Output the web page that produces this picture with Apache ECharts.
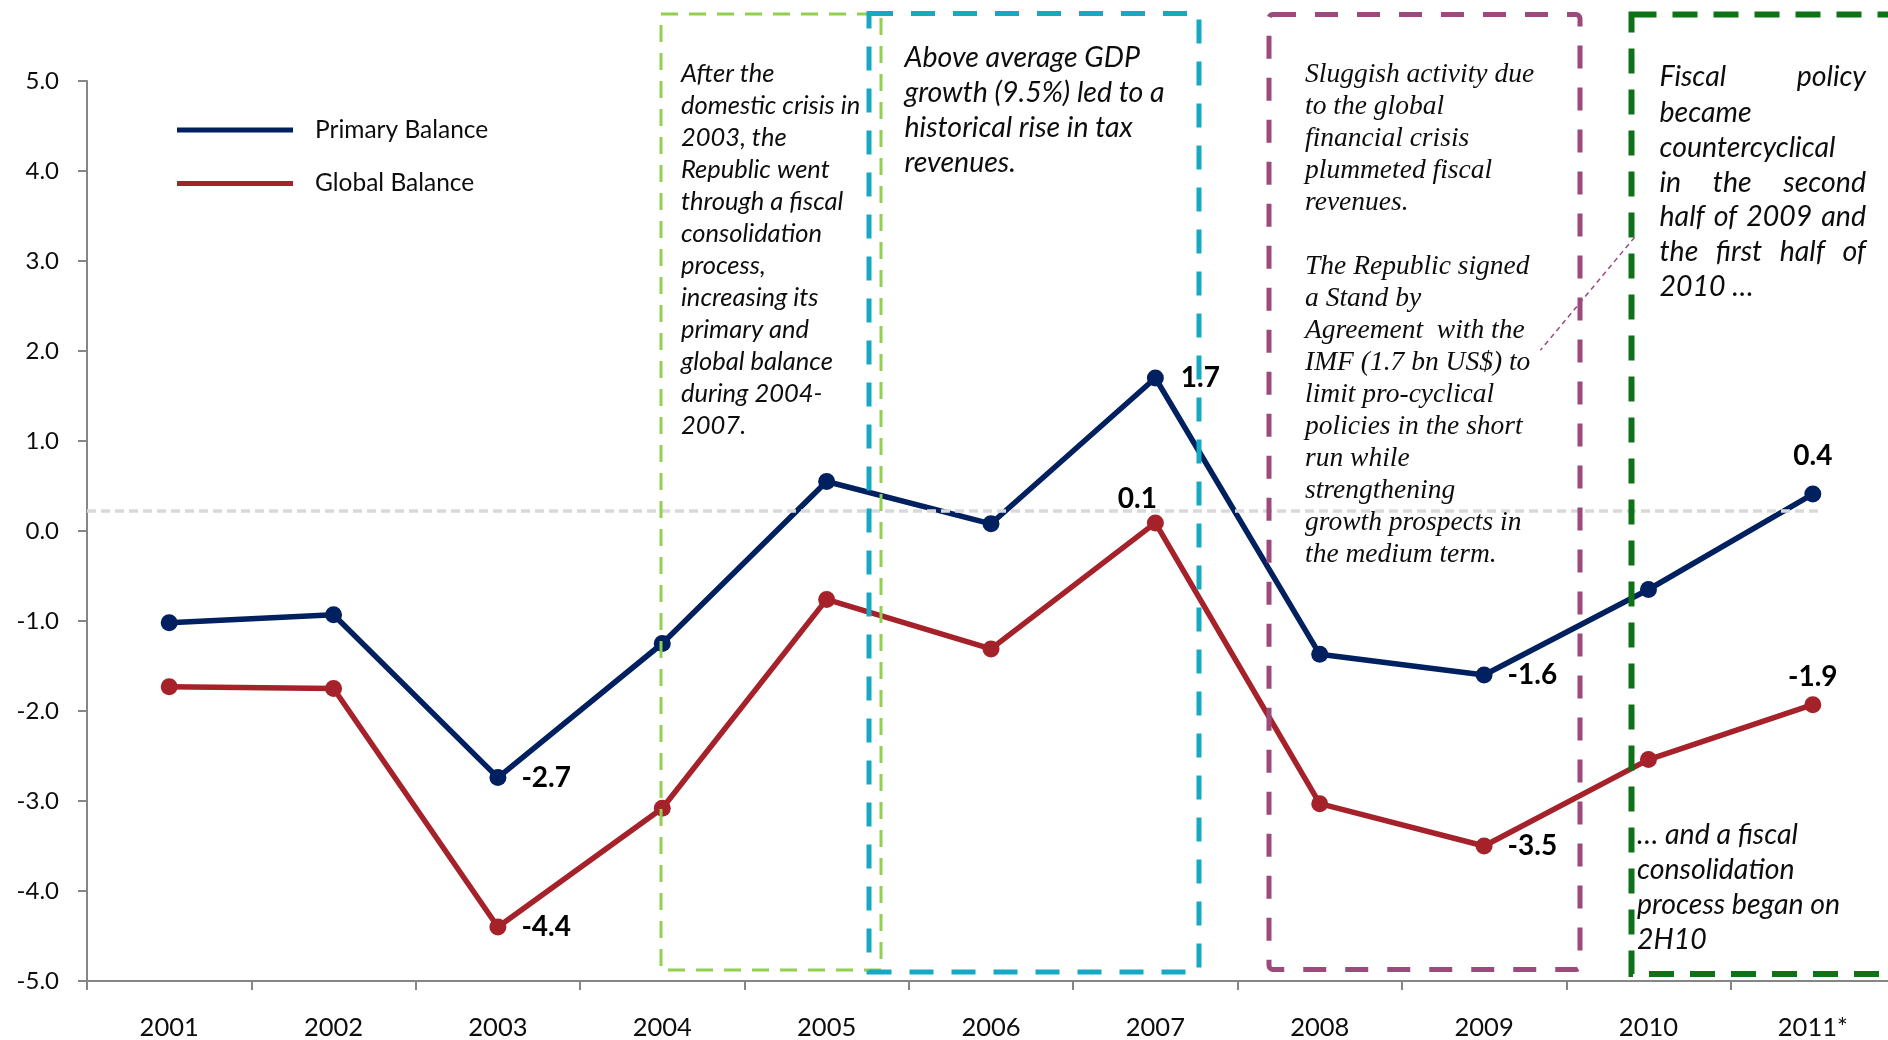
<!DOCTYPE html>
<html>
<head>
<meta charset="utf-8">
<title>Primary and Global Balance</title>
<script src="https://cdn.jsdelivr.net/npm/echarts@6/dist/echarts.min.js"></script>
<style>
  html, body { margin: 0; padding: 0; background: #fff; }
  #chart { width: 1888px; height: 1040px; }
</style>
</head>
<body>
<div id="chart"></div>
<script>
// data (% of GDP)
const years = ['2001', '2002', '2003', '2004', '2005', '2006', '2007', '2008', '2009', '2010', '2011*'];
const primaryBalance = [-1.02, -0.93, -2.74, -1.25, 0.55, 0.08, 1.70, -1.37, -1.60, -0.65, 0.41];
const globalBalance = [-1.73, -1.75, -4.40, -3.08, -0.76, -1.31, 0.09, -3.03, -3.50, -2.54, -1.93];
const refLineValue = 0.23;

// which points carry a value label, and where
const primaryLabels = {
  2: { position: 'right', distance: 15 },
  6: { position: 'right', distance: 17 },
  8: { position: 'right', distance: 15 },
  10: { position: 'top', distance: 16 }
};
const globalLabels = {
  2: { position: 'right', distance: 15 },
  6: { position: 'top', distance: 1, offset: [-18, 0] },
  8: { position: 'right', distance: 15 },
  10: { position: 'top', distance: 5 }
};

const NAVY = '#002060';
const RED = '#A6222A';
const AXIS = '#868686';
const TEXT = '#0d0d0d';

function withLabels(values, cfg) {
  return values.map(function (v, i) {
    if (!cfg[i]) return v;
    return { value: v, label: Object.assign({ show: true }, cfg[i]) };
  });
}

const measureCtx = document.createElement('canvas').getContext('2d');
// spread words across a line like justified text in the original
function justifiedLine(words, left, right, cy, font) {
  measureCtx.font = font;
  const widths = words.map(function (w) { return measureCtx.measureText(w).width; });
  const total = widths.reduce(function (a, b) { return a + b; }, 0);
  const gap = (right - left - total) / (words.length - 1);
  let x = left;
  return words.map(function (w, i) {
    const el = {
      type: 'text', z: 100, silent: true,
      style: { text: w, x: x, y: cy, font: font, fill: TEXT, verticalAlign: 'middle' }
    };
    x += widths[i] + gap;
    return el;
  });
}

function box(x, y, w, h, color, width, dash, r) {
  return {
    type: 'rect', z: 100, silent: true,
    shape: { x: x, y: y, width: w, height: h, r: r || 0 },
    style: { fill: 'none', stroke: color, lineWidth: width, lineDash: dash }
  };
}

function note(lines, x, y, font, lineHeight) {
  return {
    type: 'text', z: 100, silent: true,
    style: {
      text: lines.join('\n'), x: x, y: y, font: font, fill: TEXT,
      lineHeight: lineHeight, verticalAlign: 'top'
    }
  };
}

const sansNote = 'italic 25.5px Lato';
const sansBig = 'italic 28.5px Lato';
const serifNote = 'italic 27.5px "Liberation Serif"';

const graphics = [
  box(661, 14, 220, 956, '#92D050', 3, [17, 11]),
  box(869, 13.5, 330, 958.5, '#17A8C4', 5, [24, 18]),
  box(1269, 14.5, 311, 955, '#9C4A7C', 5, [23, 19], 4),
  box(1631.5, 14.5, 300, 959.5, '#0E7216', 6, [25, 16]),
  {
    type: 'line', z: 100, silent: true,
    shape: { x1: 1634.6, y1: 237.3, x2: 1540.4, y2: 350.2 },
    style: { stroke: '#9C4A7C', lineWidth: 1.5, lineDash: [5, 4] }
  },
  note(['After the', 'domestic crisis in', '2003, the', 'Republic went', 'through a fiscal',
    'consolidation', 'process,', 'increasing its', 'primary and', 'global balance',
    'during 2004-', '2007.'], 681, 58, sansNote, 32),
  note(['Above average GDP', 'growth (9.5%) led to a', 'historical rise in tax', 'revenues.'],
    904.5, 40.8, sansBig, 35),
  note(['Sluggish activity due', 'to the global', 'financial crisis', 'plummeted fiscal',
    'revenues.', '', 'The Republic signed', 'a Stand by', 'Agreement  with the',
    'IMF (1.7 bn US$) to', 'limit pro-cyclical', 'policies in the short', 'run while',
    'strengthening', 'growth prospects in', 'the medium term.'], 1305, 58.6, serifNote, 32),
  note(['became', 'countercyclical'], 1659.5, 95.4, sansBig, 35),
  note(['2010 …'], 1659.5, 269.5, sansBig, 35),
  note(['… and a fiscal', 'consolidation', 'process began on', '2H10'], 1637, 817.5, sansBig, 35)
]
  .concat(justifiedLine(['Fiscal', 'policy'], 1659.5, 1866, 76.5, sansBig))
  .concat(justifiedLine(['in', 'the', 'second'], 1659.5, 1866, 182.5, sansBig))
  .concat(justifiedLine(['half', 'of', '2009', 'and'], 1659.5, 1866, 217, sansBig))
  .concat(justifiedLine(['the', 'first', 'half', 'of'], 1659.5, 1866, 251.8, sansBig));

const chart = echarts.init(document.getElementById('chart'));

const labelBase = {
  show: false,
  fontFamily: 'Lato',
  fontWeight: 'bold',
  fontSize: 28,
  color: '#000',
  formatter: function (p) { return p.value.toFixed(1); }
};

chart.setOption({
  animation: false,
  backgroundColor: '#fff',
  textStyle: { fontFamily: 'Lato' },
  // plot area runs slightly past the right edge, as in the original
  grid: { left: 87, top: 81, width: 1808, height: 900, outerBoundsMode: 'none' },
  legend: {
    orient: 'vertical',
    left: 177,
    top: 116,
    padding: 0,
    icon: 'rect',
    itemWidth: 116,
    itemHeight: 5,
    itemGap: 25.5,
    selectedMode: false,
    textStyle: { fontSize: 24.5, fontFamily: 'Lato', color: TEXT, lineHeight: 28, padding: [0, 0, 0, 17] },
    data: ['Primary Balance', 'Global Balance']
  },
  xAxis: {
    type: 'category',
    data: years,
    boundaryGap: true,
    axisLine: { onZero: false, lineStyle: { color: AXIS, width: 2 } },
    axisTick: { show: true, length: 9, interval: 0, lineStyle: { color: AXIS, width: 2 } },
    axisLabel: { fontSize: 25.5, fontFamily: 'Lato', color: TEXT, margin: 34, interval: 0 },
    splitLine: { show: false }
  },
  yAxis: {
    type: 'value',
    min: -5,
    max: 5,
    interval: 1,
    axisLine: { show: true, lineStyle: { color: AXIS, width: 2 } },
    axisTick: { show: true, length: 9, lineStyle: { color: AXIS, width: 2 } },
    axisLabel: {
      fontSize: 24, fontFamily: 'Lato', color: TEXT, margin: 28,
      formatter: function (v) { return v.toFixed(1); }
    },
    splitLine: { show: false }
  },
  series: [
    {
      name: 'Primary Balance',
      type: 'line',
      data: withLabels(primaryBalance, primaryLabels),
      symbol: 'circle',
      symbolSize: 17,
      color: NAVY,
      lineStyle: { color: NAVY, width: 5.5 },
      itemStyle: { color: NAVY },
      label: labelBase,
      emphasis: { disabled: true },
      markLine: {
        silent: true,
        symbol: 'none',
        z: 5,
        label: { show: false },
        lineStyle: { color: '#D9D9D9', width: 3.5, type: [9, 5] },
        data: [[{ x: 87, yAxis: refLineValue }, { x: 1821, yAxis: refLineValue }]]
      }
    },
    {
      name: 'Global Balance',
      type: 'line',
      data: withLabels(globalBalance, globalLabels),
      symbol: 'circle',
      symbolSize: 17,
      color: RED,
      lineStyle: { color: RED, width: 5.5 },
      itemStyle: { color: RED },
      label: labelBase,
      emphasis: { disabled: true }
    }
  ],
  graphic: graphics
});
</script>
</body>
</html>
